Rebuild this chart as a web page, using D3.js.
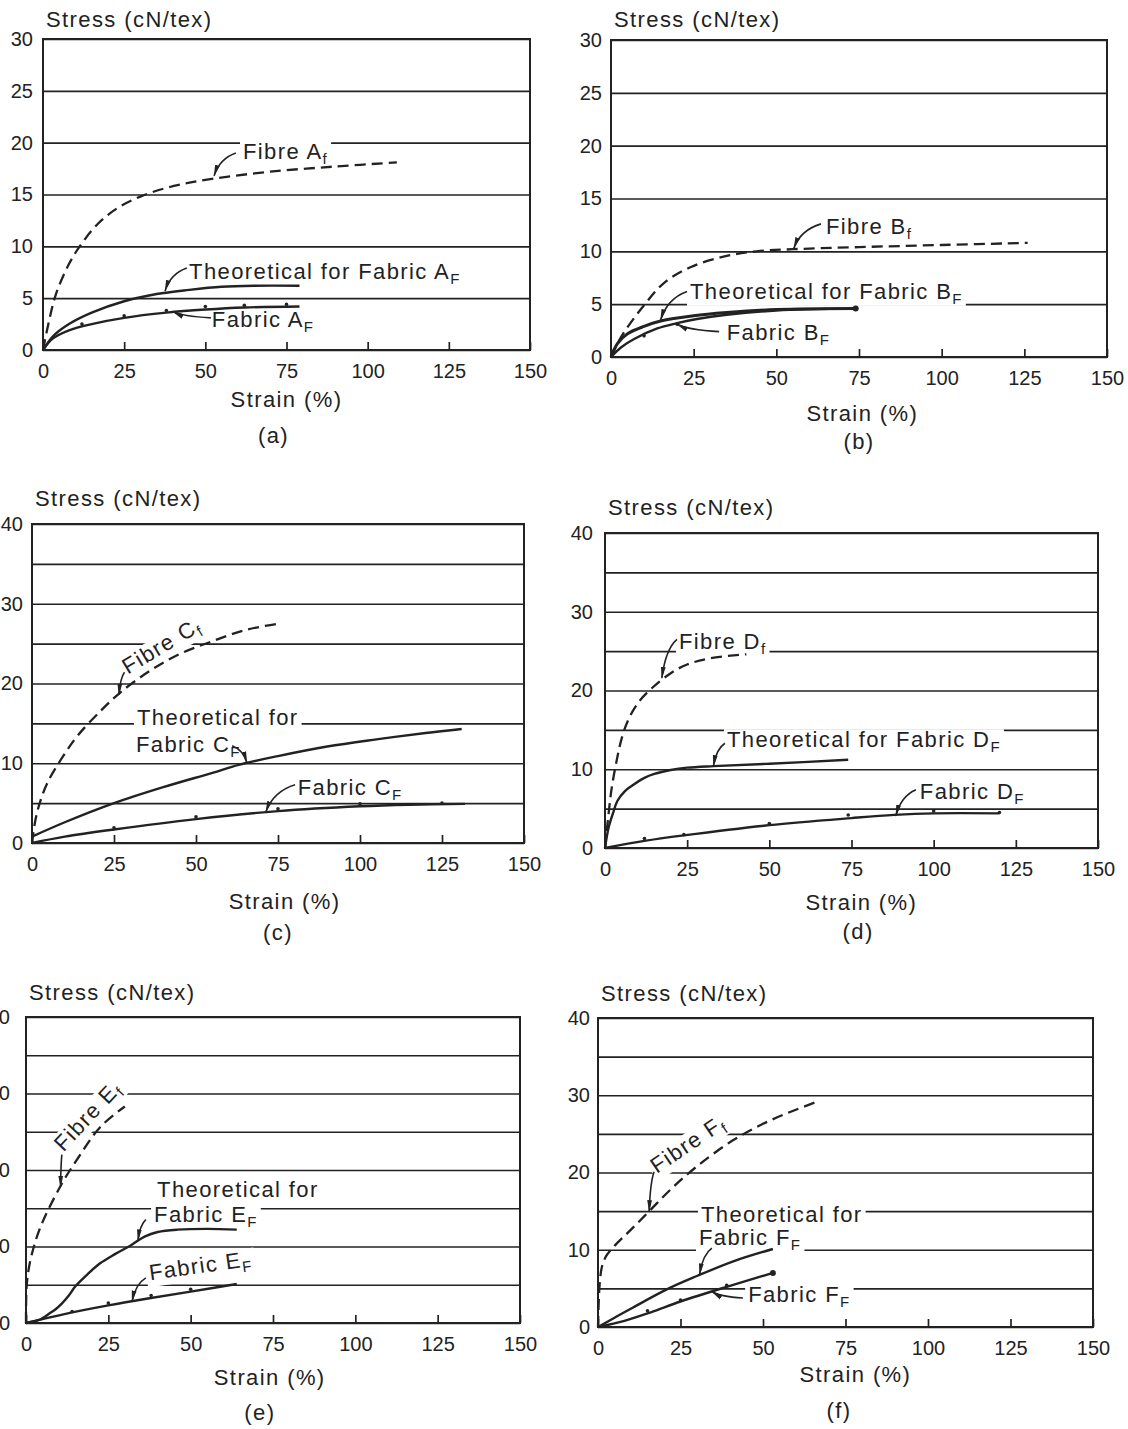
<!DOCTYPE html>
<html>
<head>
<meta charset="utf-8">
<script src="https://cdn.jsdelivr.net/npm/d3@7"></script>
<style>
  body { margin: 0; background: #fff; }
  svg text { font-family: "Liberation Sans", Arial, sans-serif; fill: #222; }
</style>
</head>
<body>
<svg id="fig" width="1128" height="1429"></svg>
<script>
// Stress (cN/tex) against strain (%)
const strainTicks = [0, 25, 50, 75, 100, 125, 150];
const panelLetters = ['(a)', '(b)', '(c)', '(d)', '(e)', '(f)'];
const stressMax = [30, 30, 40, 40, 40, 40];
const stressLabelStep = [5, 5, 10, 10, 10, 10];

// (a)
const fibreA = [[0,0],[2,3],[4,5.4],[8,8.3],[12,10.3],[17,12.2],[23,13.7],[30,14.8],[40,15.8],[52,16.5],[70,17.2],[90,17.7],[109,18.1]];
const theoA = [[0,0],[3,1.3],[8,2.5],[15,3.6],[25,4.7],[35,5.4],[45,5.8],[55,6.1],[65,6.2],[79,6.2]];
const fabricA = [[0,0],[3,1.1],[8,1.9],[15,2.5],[25,3.1],[38,3.6],[50,3.9],[62,4.1],[79,4.2]];
const dotsA = [[12,2.5],[25,3.3],[38,3.8],[50,4.2],[62,4.3],[75,4.4]];

// (b)
const fibreB = [[0,0],[2,1.3],[4.3,2.5],[10,4.9],[16,7],[24,8.5],[34,9.5],[44,10],[55,10.2],[75,10.4],[100,10.6],[126,10.8]];
const theoB = [[0,0],[2,1.3],[5,2.2],[10,2.9],[15,3.4],[25,3.9],[35,4.2],[50,4.5],[74,4.6]];
const fabricB = [[0,0],[3,0.9],[7,1.7],[14,2.7],[20,3.2],[26,3.6],[35,4.0],[50,4.4],[74,4.6]];
const dotsB = [[10,2.0],[20,3.1]];

// (c)
const fibreC = [[0,0],[1,2.8],[2.5,5.2],[5,7.8],[10,11.2],[14,13.5],[21,16.6],[27,18.9],[36,21.6],[45,23.7],[55,25.3],[65,26.7],[75,27.5]];
const theoC = [[0,0.8],[10,2.6],[25,5],[40,7],[55,8.8],[63,9.8],[75,10.9],[90,12.1],[105,13],[120,13.8],[131,14.3]];
const fabricC = [[0,0],[10,0.8],[25,1.7],[50,3.0],[75,4.0],[100,4.6],[115,4.8],[132,4.9]];
const dotsC = [[25,1.9],[50,3.3],[75,4.3],[100,4.9],[125,5.0]];

// (d)
const fibreD = [[0,0],[1,4],[2,7.5],[3.5,11],[5,13.8],[7,16.2],[10,18.4],[14,20.2],[20,22.2],[25,23.3],[32,24.1],[43,24.6]];
const theoD = [[0,0],[1.1,2.6],[2.5,4.5],[3.8,6],[6,7.2],[8.2,7.9],[12,8.9],[15,9.4],[20,9.9],[25,10.2],[33,10.4],[50,10.7],[74,11.2]];
const fabricD = [[0,0],[12,0.9],[24,1.6],[50,2.9],[75,3.8],[88,4.2],[100,4.4],[120,4.4]];
const dotsD = [[12,1.2],[24,1.7],[50,3.1],[74,4.2],[100,4.7],[120,4.5]];

// (e)
const fibreE = [[0,0],[0.2,4.8],[1,7.5],[2.4,10],[4,12.1],[6.2,14.3],[11,18.3],[16,21.7],[22.5,25.6],[30,28.3]];
const theoE = [[0,0],[4,0.4],[7.3,1.3],[9,1.8],[11,2.6],[13,3.6],[15,4.8],[18.5,6.3],[22.5,7.8],[27,9],[32,10.2],[36,11.3],[40,11.9],[46,12.2],[55,12.3],[64,12.2]];
const fabricE = [[0,0],[12,1.2],[25,2.3],[37,3.2],[50,4.1],[64,5.1]];
const dotsE = [[14,1.5],[25,2.6],[38,3.6],[50,4.4]];

// (f)
const fibreF = [[0,0],[0.2,3],[0.5,5.5],[1.2,7.8],[2.5,9.2],[5,10.5],[10,12.6],[16,15.2],[22,17.8],[30,20.8],[41,24.2],[50,26.3],[58,27.8],[66,29.1]];
const theoF = [[0,0],[5,1.2],[10.5,2.5],[21,4.9],[30,6.6],[41,8.5],[53,10.1]];
const fabricF = [[0,0],[8,0.8],[16,1.9],[25,3.3],[39,5.2],[53,7]];
const dotsF = [[15,2.1],[25,3.5],[39,5.4]];

// curve labels, placed in data units (text start, leader from -> to)
const notesA = [
  { text: ['Fibre A', 'f'], at: [61.6, 18.4], from: [59.4, 19.0], to: [52.7, 16.8] },
  { text: ['Theoretical for Fabric A', 'F'], at: [45, 6.85], from: [44.3, 7.9], to: [37.6, 5.7] },
  { text: ['Fabric A', 'F'], at: [52, 2.2], from: [51.7, 3.1], to: [40, 3.7] }
];
const notesB = [
  { text: ['Fibre B', 'f'], at: [65, 11.6], from: [63.5, 12.6], to: [55.3, 10.3] },
  { text: ['Theoretical for Fabric B', 'F'], at: [23.9, 5.5], from: [23, 6.2], to: [15, 3.5] },
  { text: ['Fabric B', 'F'], at: [35, 1.6], from: [32.7, 2.4], to: [20, 3.1] }
];
const notesC = [
  { text: ['Fibre C', 'f'], at: [29.2, 21.1], angle: -31, from: [28.2, 21.4], to: [26.5, 18.6] },
  { text: ['Theoretical for'], at: [32, 14.8] },
  { text: ['Fabric C', 'F'], at: [31.7, 11.4], from: [61, 12.2], to: [65.5, 10.1] },
  { text: ['Fabric C', 'F'], at: [81, 6.0], from: [80.2, 7.3], to: [71.3, 3.9] }
];
const notesD = [
  { text: ['Fibre D', 'f'], at: [22.5, 25.3], from: [21.9, 26.5], to: [17.3, 21.6] },
  { text: ['Theoretical for Fabric D', 'F'], at: [37.1, 12.8], from: [36.5, 13.3], to: [33, 10.4] },
  { text: ['Fabric D', 'F'], at: [95.8, 6.2], from: [94.6, 7.4], to: [88.5, 4.1] }
];
const notesE = [
  { text: ['Fibre E', 'f'], at: [11.4, 22.3], angle: -47, from: [10.9, 22.0], to: [10.5, 17.8] },
  { text: ['Theoretical for'], at: [39.8, 16.5] },
  { text: ['Fabric E', 'F'], at: [38.9, 13.2], from: [36.4, 13.5], to: [34, 10.8] },
  { text: ['Fabric E', 'F'], at: [37.7, 5.6], angle: -8, from: [36.4, 5.9], to: [32.2, 2.8] }
];
const notesF = [
  { text: ['Fibre F', 'f'], at: [17.8, 19.8], angle: -34, from: [17, 20.1], to: [15.5, 15.0] },
  { text: ['Theoretical for'], at: [31.2, 13.6] },
  { text: ['Fabric F', 'F'], at: [30.6, 10.6], from: [34.5, 10.2], to: [30.8, 6.8] },
  { text: ['Fabric F', 'F'], at: [45.5, 3.2], from: [43.9, 3.75], to: [34.5, 4.6] }
];

// page layout of the six plot boxes
const panels = [
  { L: 43,  R: 530,  T: 39,   B: 350,  pad: 10, titleDy: -12, strainX: 75, strainDy: 57, letterX: 71, letterDy: 93,
    fibre: fibreA, theo: theoA, fabric: fabricA, dots: dotsA, notes: notesA },
  { L: 611, R: 1107, T: 40,   B: 357,  pad: 9,  titleDy: -13, strainX: 76, strainDy: 64, letterX: 75, letterDy: 92,
    fibre: fibreB, theo: theoB, fabric: fabricB, dots: dotsB, notes: notesB, theoEnd: true, theoWidth: 3 },
  { L: 32,  R: 524,  T: 524,  B: 843,  pad: 9,  titleDy: -18, strainX: 77, strainDy: 66, letterX: 75, letterDy: 97,
    fibre: fibreC, theo: theoC, fabric: fabricC, dots: dotsC, notes: notesC },
  { L: 605, R: 1098, T: 533,  B: 848,  pad: 12, titleDy: -18, strainX: 78, strainDy: 62, letterX: 77, letterDy: 91,
    fibre: fibreD, theo: theoD, fabric: fabricD, dots: dotsD, notes: notesD },
  { L: 26,  R: 520,  T: 1017, B: 1323, pad: 16, titleDy: -17, strainX: 74, strainDy: 62, letterX: 71, letterDy: 97,
    fibre: fibreE, theo: theoE, fabric: fabricE, dots: dotsE, notes: notesE },
  { L: 598, R: 1093, T: 1018, B: 1327, pad: 8,  titleDy: -17, strainX: 78, strainDy: 55, letterX: 73, letterDy: 91,
    fibre: fibreF, theo: theoF, fabric: fabricF, dots: dotsF, notes: notesF, fabricEnd: true }
];

const INK = '#222';
const svg = d3.select('#fig');
svg.append('rect').attr('width', 1128).attr('height', 1429).attr('fill', '#fff');

// leader arrowhead
svg.append('defs').append('marker')
  .attr('id', 'arrow')
  .attr('viewBox', '0 0 12 6')
  .attr('refX', 11).attr('refY', 3)
  .attr('markerWidth', 12).attr('markerHeight', 6)
  .attr('markerUnits', 'userSpaceOnUse')
  .attr('orient', 'auto')
  .append('path').attr('d', 'M0,0.6 L12,3 L0,5.4 Z').attr('fill', INK);

panels.forEach((p, i) => drawPanel(p, i));

function drawPanel(p, i) {
  const g = svg.append('g');
  const x = d3.scaleLinear().domain([0, 150]).range([p.L, p.R]);
  const y = d3.scaleLinear().domain([0, stressMax[i]]).range([p.B, p.T]);

  // horizontal grid + stress labels
  const yAxis = g.append('g')
    .attr('transform', `translate(${p.L},0)`)
    .call(d3.axisLeft(y)
      .tickValues(d3.range(0, stressMax[i] + 1, 5))
      .tickSize(-(p.R - p.L))
      .tickPadding(p.pad)
      .tickFormat(d => d % stressLabelStep[i] === 0 ? d : ''));
  yAxis.select('.domain').remove();
  yAxis.selectAll('line').attr('stroke', INK).attr('stroke-width', 1.7);
  yAxis.attr('font-size', 20).attr('font-family', null).attr('color', INK);

  // strain ticks pointing up into the box
  const xAxis = g.append('g')
    .attr('transform', `translate(0,${p.B})`)
    .call(d3.axisBottom(x).tickValues(strainTicks).tickSize(-8).tickPadding(14));
  xAxis.select('.domain').remove();
  xAxis.selectAll('line').attr('stroke', INK).attr('stroke-width', 1.7);
  xAxis.attr('font-size', 20).attr('font-family', null).attr('color', INK);

  // frame
  g.append('rect')
    .attr('x', p.L).attr('y', p.T)
    .attr('width', p.R - p.L).attr('height', p.B - p.T)
    .attr('fill', 'none').attr('stroke', INK).attr('stroke-width', 2);

  // titles
  g.append('text').attr('x', p.L + 3).attr('y', p.T + p.titleDy)
    .attr('font-size', 22).attr('letter-spacing', 1.4).text('Stress (cN/tex)');
  g.append('text').attr('x', x(p.strainX)).attr('y', p.B + p.strainDy)
    .attr('text-anchor', 'middle').attr('font-size', 22).attr('letter-spacing', 1.4).text('Strain (%)');
  g.append('text').attr('x', x(p.letterX)).attr('y', p.B + p.letterDy)
    .attr('text-anchor', 'middle').attr('font-size', 22).attr('letter-spacing', 1.4).text(panelLetters[i]);

  // curve labels (white patch breaks the grid behind them)
  p.notes.forEach(n => {
    const lg = g.append('g')
      .attr('transform', `translate(${x(n.at[0])},${y(n.at[1])}) rotate(${n.angle || 0})`);
    const t = lg.append('text').attr('font-size', 22).attr('letter-spacing', 1.4);
    t.append('tspan').text(n.text[0]);
    if (n.text[1]) t.append('tspan').attr('font-size', 15).attr('dy', 5).text(n.text[1]);
    const bb = t.node().getBBox();
    lg.insert('rect', 'text')
      .attr('x', bb.x - 3).attr('y', bb.y + 2)
      .attr('width', bb.width + 6).attr('height', bb.height - 3)
      .attr('fill', '#fff');
  });

  const line = d3.line().x(d => x(d[0])).y(d => y(d[1])).curve(d3.curveCatmullRom.alpha(0.5));

  g.append('path').datum(p.fibre).attr('d', line)
    .attr('fill', 'none').attr('stroke', INK).attr('stroke-width', 2.3)
    .attr('stroke-dasharray', '11,6');
  g.append('path').datum(p.theo).attr('d', line)
    .attr('fill', 'none').attr('stroke', INK).attr('stroke-width', p.theoWidth || 2.4);
  g.append('path').datum(p.fabric).attr('d', line)
    .attr('fill', 'none').attr('stroke', INK).attr('stroke-width', 2.4);

  // measured points on the fabric curve
  g.selectAll(null).data(p.dots).enter().append('circle')
    .attr('cx', d => x(d[0])).attr('cy', d => y(d[1])).attr('r', 1.8).attr('fill', INK);

  if (p.theoEnd) {
    const e = p.theo[p.theo.length - 1];
    g.append('circle').attr('cx', x(e[0])).attr('cy', y(e[1])).attr('r', 3).attr('fill', INK);
  }
  if (p.fabricEnd) {
    const e = p.fabric[p.fabric.length - 1];
    g.append('circle').attr('cx', x(e[0])).attr('cy', y(e[1])).attr('r', 3).attr('fill', INK);
  }

  // leader arrows
  p.notes.filter(n => n.from).forEach(n => {
    const x0 = x(n.from[0]), y0 = y(n.from[1]);
    const x1 = x(n.to[0]), y1 = y(n.to[1]);
    const cx = x0 + (x1 - x0) * 0.75, cy = y0 + (y1 - y0) * 0.25;
    g.append('path')
      .attr('d', `M${x0},${y0} Q${cx},${cy} ${x1},${y1}`)
      .attr('fill', 'none').attr('stroke', INK).attr('stroke-width', 1.6)
      .attr('marker-end', 'url(#arrow)');
  });
}
</script>
</body>
</html>
